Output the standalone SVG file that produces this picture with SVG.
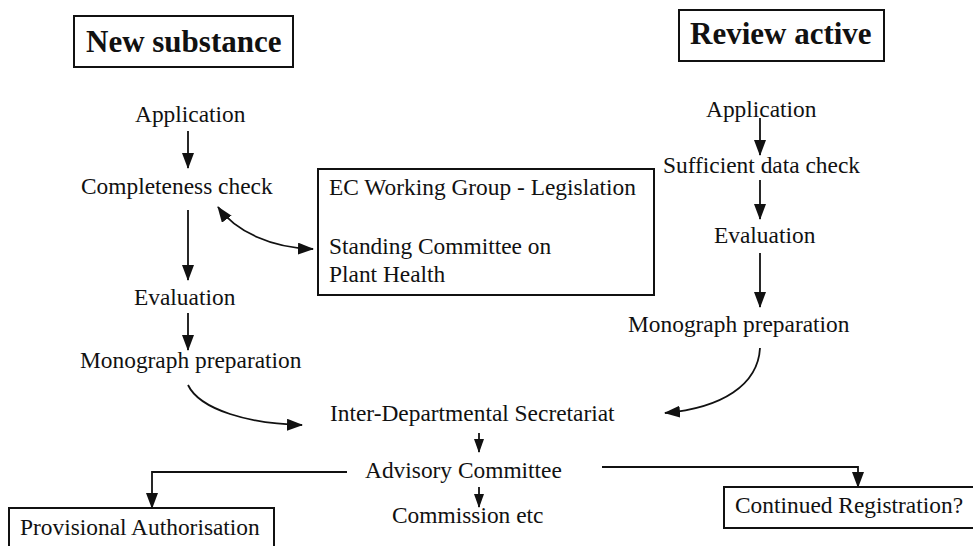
<svg xmlns="http://www.w3.org/2000/svg" width="973" height="546" viewBox="0 0 973 546">
  <style>
    .t { font-family: 'Liberation Serif', 'DejaVu Serif', serif; font-size: 23.4px; fill: #111; }
    .h { font-family: 'Liberation Serif', 'DejaVu Serif', serif; font-size: 31px; font-weight: bold; fill: #111; }
    .box { fill: none; stroke: #111; stroke-width: 2; }
    .ln { fill: none; stroke: #111; stroke-width: 1.8; }
  </style>
  <defs>
    <marker id="ah" viewBox="0 0 16 12" refX="15" refY="6" markerWidth="16" markerHeight="12" markerUnits="userSpaceOnUse" orient="auto-start-reverse">
      <path d="M0,0 L16,6 L0,12 Z" fill="#111"/>
    </marker>
    <marker id="ahs" viewBox="0 0 14 10" refX="13" refY="5" markerWidth="14" markerHeight="10" markerUnits="userSpaceOnUse" orient="auto">
      <path d="M0,0 L14,5 L0,10 Z" fill="#111"/>
    </marker>
  </defs>
  <rect width="973" height="546" fill="#fff"/>

  <!-- column headings -->
  <g id="new-substance">
    <rect class="box" x="74" y="16" width="219" height="51"/>
    <text class="h" x="86" y="52">New substance</text>
  </g>
  <g id="review-active">
    <rect class="box" x="679" y="10" width="205" height="51"/>
    <text class="h" x="690" y="44">Review active</text>
  </g>

  <!-- new substance route -->
  <g id="ns-application"><text class="t" x="135" y="122">Application</text></g>
  <g id="ns-completeness"><text class="t" x="81" y="194">Completeness check</text></g>
  <g id="ns-evaluation"><text class="t" x="134" y="305">Evaluation</text></g>
  <g id="ns-monograph"><text class="t" x="80" y="368">Monograph preparation</text></g>

  <!-- EC committees -->
  <g id="ec-committees">
    <rect class="box" x="318" y="169" width="336" height="126"/>
    <text class="t" x="329" y="195">EC Working Group - Legislation</text>
    <text class="t" x="329" y="254">Standing Committee on</text>
    <text class="t" x="329" y="282">Plant Health</text>
  </g>

  <!-- review active route -->
  <g id="ra-application"><text class="t" x="706" y="117">Application</text></g>
  <g id="ra-sufficient"><text class="t" x="663" y="173">Sufficient data check</text></g>
  <g id="ra-evaluation"><text class="t" x="714" y="243">Evaluation</text></g>
  <g id="ra-monograph"><text class="t" x="628" y="332">Monograph preparation</text></g>

  <!-- shared stages -->
  <g id="secretariat"><text class="t" x="330" y="421">Inter-Departmental Secretariat</text></g>
  <g id="advisory"><text class="t" x="365" y="478">Advisory Committee</text></g>
  <g id="commission"><text class="t" x="392" y="523">Commission etc</text></g>

  <!-- outcomes -->
  <g id="provisional">
    <rect class="box" x="9" y="508" width="265" height="60"/>
    <text class="t" x="20" y="535">Provisional Authorisation</text>
  </g>
  <g id="continued">
    <rect class="box" x="724" y="487" width="252" height="41"/>
    <text class="t" x="735" y="513">Continued Registration?</text>
  </g>

  <!-- connectors -->
  <g id="connectors">
    <path class="ln" d="M188,131 V168" marker-end="url(#ah)"/>
    <path class="ln" d="M188,210 V280" marker-end="url(#ah)"/>
    <path class="ln" d="M188,313 V350" marker-end="url(#ah)"/>
    <path class="ln" d="M188,385 C200,410 250,424 302,425" marker-end="url(#ah)"/>
    <path class="ln" d="M218,207 C236,232 272,248 313,249" marker-start="url(#ah)" marker-end="url(#ah)"/>

    <path class="ln" d="M760,118 V155" marker-end="url(#ah)"/>
    <path class="ln" d="M760,180 V219" marker-end="url(#ah)"/>
    <path class="ln" d="M760,253 V307" marker-end="url(#ah)"/>
    <path class="ln" d="M760,348 C758,385 722,408 665,413" marker-end="url(#ah)"/>

    <path class="ln" d="M479,433 V452" marker-end="url(#ahs)"/>
    <path class="ln" d="M479,487 V507" marker-end="url(#ahs)"/>

    <path class="ln" d="M347,472 H152 V508" marker-end="url(#ah)"/>
    <path class="ln" d="M602,467 H858 V487" marker-end="url(#ah)"/>
  </g>
</svg>
